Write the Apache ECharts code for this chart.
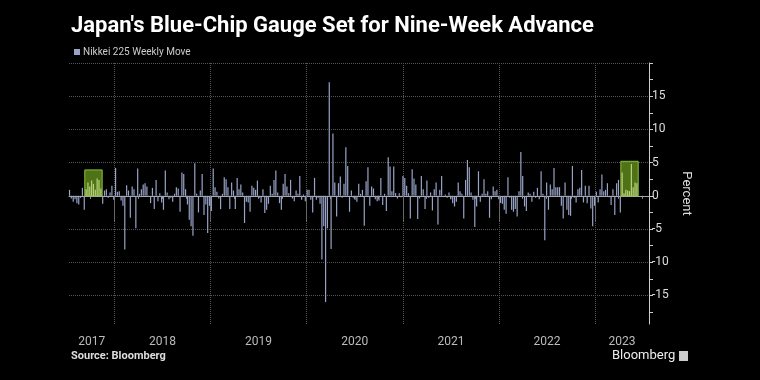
<!DOCTYPE html>
<html><head><meta charset="utf-8">
<script src="https://cdn.jsdelivr.net/npm/echarts@6/dist/echarts.min.js"></script>
<style>html,body{margin:0;padding:0;background:#000}#c{width:760px;height:380px}</style>
</head><body><div id="c"></div>
<script>
// ---- data: Nikkei 225 weekly % move, one value per week (Fridays), first week ending 2017-07-14
const firstWeek = '2017-07-14';
const moves2017 = [0.9,-0.4,-0.9,-0.5,-1.1,-1.3,-0.3,1.2,-2.1,1.0,2.0,1.4,2.3,1.8,0.9,2.6,2.4,1.1,-1.2,0.8,1.0,-0.3,0.5,1.5,-0.6];
const moves2018 = [4.2,0.6,0.7,-0.7,-1.5,-8.1,1.6,0.8,-3.3,1.4,1.0,-4.9,4.1,0.3,1.0,1.7,1.9,1.4,-0.1,-1.1,1.2,-2.0,2.4,-0.8,0.4,-1.0,
  -2.1,3.8,0.5,-0.5,-0.3,-0.9,0.3,1.3,1.1,-2.4,3.5,3.3,1.0,-1.3,-3.6,-4.6,-6.0,4.9,0.3,-2.5,0.8,3.3,-2.9,-1.3,-5.6,-1.5];
const moves2019 = [-2.3,4.1,1.3,0.6,-0.4,-2.0,0.3,2.8,2.5,1.3,-2.0,2.0,0.8,-2.0,2.7,1.0,1.7,0.5,-4.1,-0.9,-1.0,-2.4,1.5,1.2,0.9,2.3,
  -0.3,-1.0,1.0,-2.6,-2.1,-1.2,1.5,0.3,2.4,3.8,0.5,-1.1,-2.1,1.8,3.3,1.4,0.4,2.4,-0.4,-0.8,0.8,0.3,3.0,-0.6,0.2,-0.8];
const moves2020 = [0.9,0.9,-0.6,-2.5,2.7,-0.6,-0.3,-1.2,-9.6,-4.6,-16.0,-4.9,17.1,-8.0,9.4,2.0,-3.1,1.9,2.9,-0.3,1.8,7.3,4.5,-2.4,0.8,-0.3,
  -0.6,-0.9,1.8,0.3,0.9,-4.5,2.2,4.3,-1.5,1.4,1.1,-0.5,-0.8,-0.7,2.7,-1.4,0.3,-2.3,5.8,4.4,0.7,4.4,0.4,-0.4,0.4,-0.2];
const moves2021 = [3.0,2.7,1.5,0.4,-3.4,4.0,2.6,1.7,-3.5,-0.4,3.0,1.0,-2.0,2.3,-0.3,0.5,-2.2,1.0,2.0,-4.3,0.9,3.0,-0.2,0.2,-0.3,0.5,
  -0.5,-1.1,-1.6,-0.9,2.0,0.7,0.3,-3.4,2.4,5.4,4.3,0.5,-0.6,-4.7,-1.6,3.7,-0.9,0.3,2.5,0.3,0.7,-3.3,-0.5,1.4,0.7,0.9];
const moves2022 = [-0.5,-1.1,-1.2,-2.1,-2.7,2.8,-0.3,-2.1,-2.4,-2.0,-3.1,0.7,6.6,3.0,-1.6,-2.3,0.5,0.3,-0.9,0.6,-0.3,1.2,-0.5,3.7,0.3,-6.7,
  2.0,-2.1,1.7,1.0,4.2,1.3,1.3,1.3,-1.5,-3.4,2.0,-2.1,-2.9,-3.0,4.5,-0.3,-1.0,1.0,1.2,3.9,-1.0,1.5,-1.1,1.5,-1.9,-4.6];
const moves2023 = [-1.5,0.6,-1.0,1.0,3.2,0.7,0.9,1.9,-0.2,-1.4,1.0,-2.9,1.9,2.4,-2.5,3.5,0.4,0.9,0.8,0.7,4.8,1.3,2.0,1.9];
// highlighted advance streaks: first week, last week, box top (percent)
const streakStarts = ['2017-09-15','2023-04-14'];
const streakEnds   = ['2017-11-10','2023-06-09'];
const streakTops   = [3.9, 5.2];
// axis text
const yearTickDates = ['2018-01-01','2019-01-01','2020-01-01','2021-01-01','2022-01-01','2023-01-01'];
const yLabelValues = [-15,-10,-5,0,5,10,15];
const seriesName = 'Nikkei 225 Weekly Move';

// ---- build
const DAY = 86400000;
const utc = s => Date.parse(s + 'T00:00:00Z');
const t0 = utc(firstWeek);
const allMoves = [].concat(moves2017, moves2018, moves2019, moves2020, moves2021, moves2022, moves2023);
const xMin = Date.UTC(2017, 6, 12), xMax = Date.UTC(2023, 6, 25);
const boxes = streakStarts.map((s, i) => ({ s: utc(s), e: utc(streakEnds[i]), top: streakTops[i] }));
const barData = allMoves.map((v, i) => {
  const t = t0 + i * 7 * DAY;
  const inBox = boxes.some(b => t >= b.s && t <= b.e);
  return inBox ? { value: [t, v], itemStyle: { color: '#b7d27c' } } : [t, v];
});
const yearTs = yearTickDates.map(utc);
const bounds = [xMin].concat(yearTs, [xMax]);
const yearMids = bounds.slice(0, -1).map((b, i) => (b + bounds[i + 1]) / 2);
const quarterTs = [];
for (let y = 2017; y <= 2023; y++) for (const m of [3, 6, 9]) {
  const t = Date.UTC(y, m, 1); if (t > xMin && t < xMax) quarterTs.push(t);
}
const yMin = -19.3, yMax = 20;
const yMajor = [], yMinor = [];
for (let v = -15; v <= 20; v += 5) yMajor.push(v);
for (let v = -17.5; v < 20; v += 5) yMinor.push(v);

const chart = echarts.init(document.getElementById('c'), null, { renderer: 'canvas' });
chart.setOption({
  backgroundColor: '#000',
  animation: false,
  textStyle: { fontFamily: 'Roboto' },
  title: {
    text: "Japan's Blue-Chip Gauge Set for Nine-Week Advance",
    left: 71, top: 15, padding: 0,
    textStyle: { color: '#fff', fontSize: 22, fontWeight: 'bold', fontFamily: 'Roboto' }
  },
  legend: {
    left: 74, top: 47, padding: 0, itemWidth: 6, itemHeight: 6, itemGap: 4, icon: 'rect',
    textStyle: { color: '#ccc', fontSize: 10, fontFamily: 'Roboto', padding: [0, 0, 0, -2] },
    data: [seriesName]
  },
  grid: { left: 69, right: 111, top: 63, bottom: 56 },
  xAxis: [{
    type: 'value', min: xMin, max: xMax,
    axisLine: { show: true, lineStyle: { color: '#aaa' } },
    axisTick: { show: true, customValues: yearTs, length: 26, lineStyle: { color: '#666' } },
    axisLabel: { customValues: yearMids, formatter: v => String(new Date(v).getUTCFullYear()), color: '#bbb', fontSize: 12, margin: 12 },
    splitLine: { show: true, lineStyle: { type: 'dotted', color: '#555' } }
  }, {
    type: 'value', min: xMin, max: xMax, position: 'bottom',
    axisLine: { show: false },
    axisTick: { show: true, customValues: quarterTs, length: 3, lineStyle: { color: '#999' } },
    axisLabel: { show: false }, splitLine: { show: false }
  }],
  yAxis: [{
    type: 'value', position: 'right', min: yMin, max: yMax,
    axisLine: { show: true, lineStyle: { color: '#ccc' } },
    axisTick: { show: true, customValues: yMajor, length: 4, lineStyle: { color: '#ccc' } },
    axisLabel: { customValues: yLabelValues, color: '#ddd', fontSize: 12, margin: 3 },
    splitLine: { show: true, lineStyle: { type: 'dotted', color: '#555' } },
    name: 'Percent', nameLocation: 'middle', nameRotate: -90, nameGap: 31, nameMoveOverlap: false,
    nameTextStyle: { color: '#ddd', fontSize: 13 }
  }, {
    type: 'value', position: 'right', min: yMin, max: yMax,
    axisLine: { show: false },
    axisTick: { show: true, customValues: yMinor, length: 4, lineStyle: { color: '#ccc' } },
    axisLabel: { show: false }, splitLine: { show: false }
  }],
  series: [{
    name: seriesName, type: 'bar', xAxisIndex: 0, yAxisIndex: 0,
    barWidth: 1.2,
    itemStyle: { color: '#98a3c6' },
    data: barData,
    markArea: {
      silent: true,
      itemStyle: { color: 'rgba(98,142,26,0.8)', borderColor: '#8cbf3c', borderWidth: 1 },
      data: boxes.map(b => [{ coord: [b.s - 5 * DAY, 0] }, { coord: [b.e + 5 * DAY, b.top] }])
    }
  }],
  graphic: [
    { type: 'text', left: 71, top: 351, style: { text: 'Source: Bloomberg', fill: '#ddd', font: 'bold 11px Roboto' } },
    { type: 'text', left: 612, top: 349, style: { text: 'Bloomberg', fill: '#eee', font: '13px Roboto' } },
    { type: 'rect', left: 679, top: 351, shape: { width: 9, height: 10 }, style: { fill: '#ccc' } }
  ]
});
</script></body></html>
